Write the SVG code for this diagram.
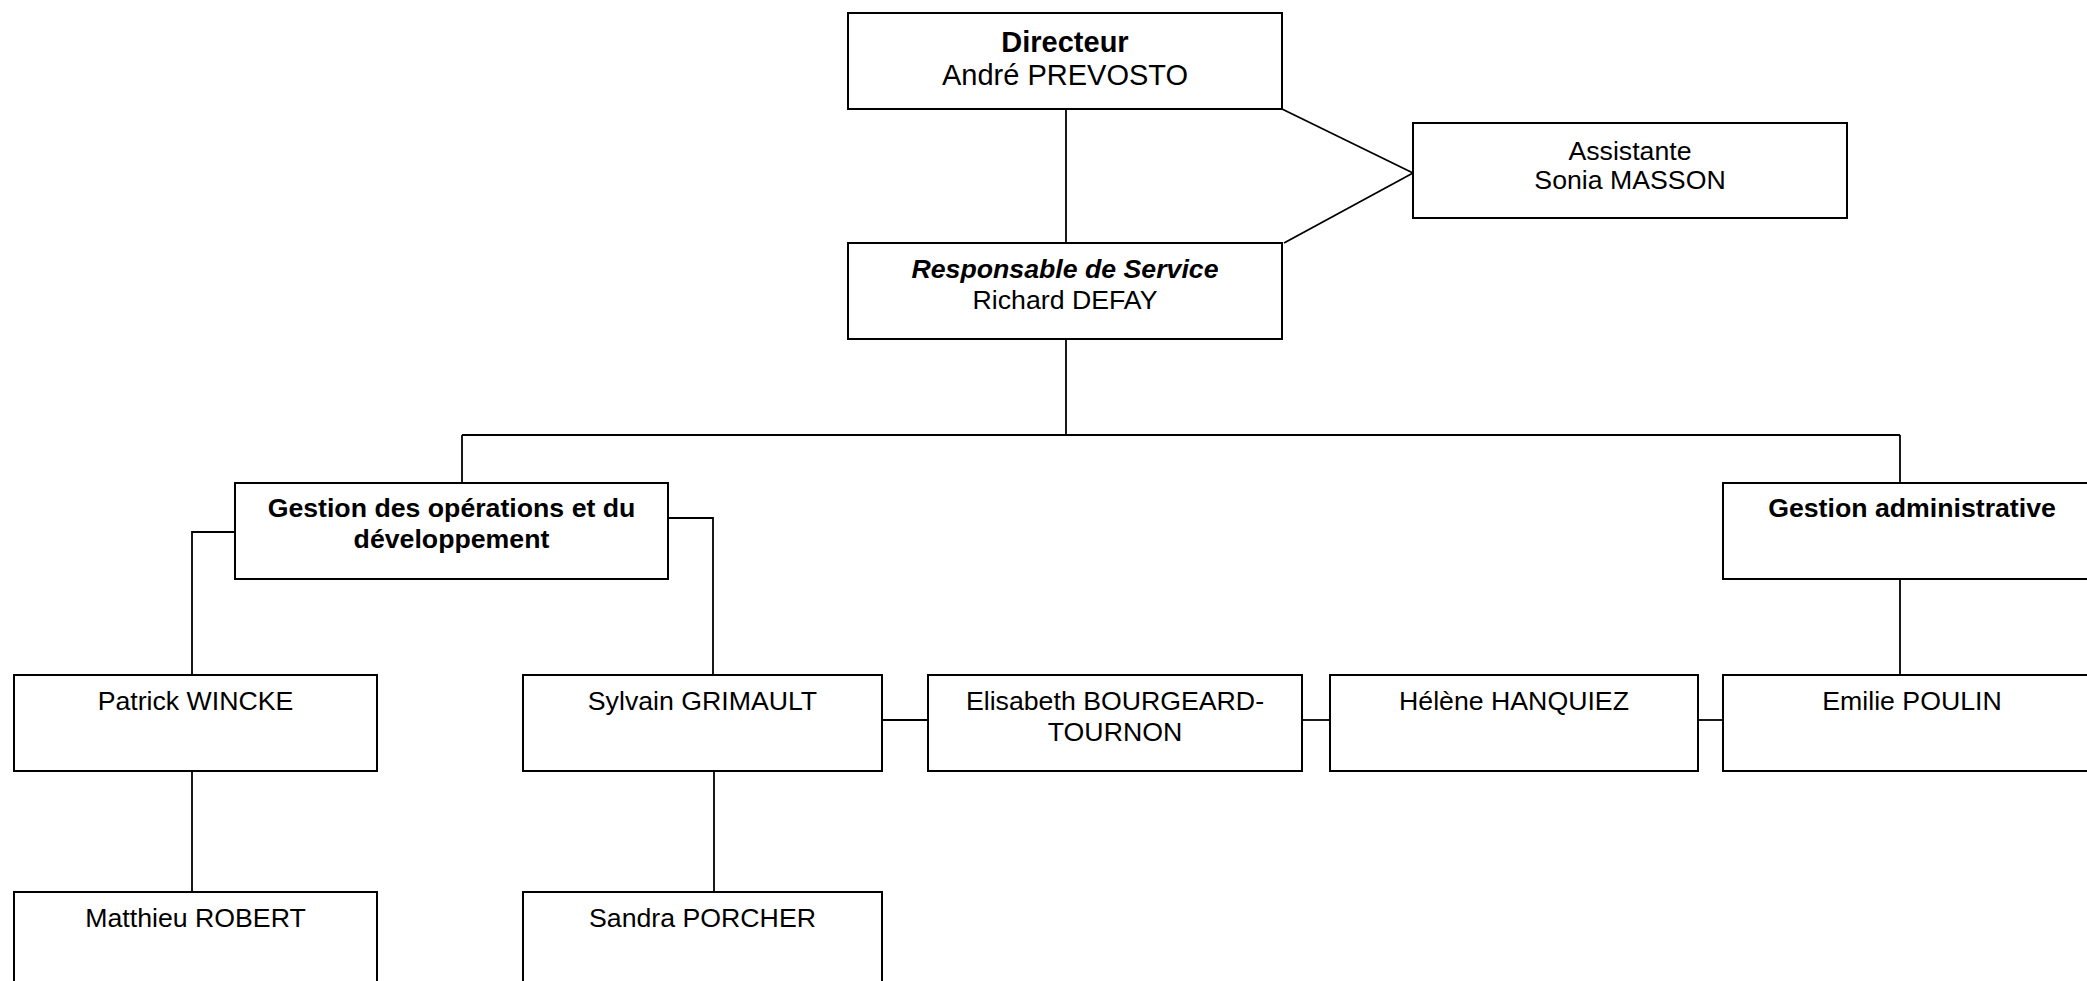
<svg xmlns="http://www.w3.org/2000/svg" width="2087" height="981" viewBox="0 0 2087 981">
<style>
.box{fill:#fff;stroke:#000;stroke-width:2}
.ln{fill:none;stroke:#000;stroke-width:1.8}
text{font-family:"Liberation Sans",Arial,sans-serif;font-size:26.7px;fill:#000;text-anchor:middle}
.b{font-weight:bold}
.bi{font-weight:bold;font-style:italic}
.big{font-size:29px}
</style>
<rect width="2087" height="981" fill="#fff"/>
<g id="connectors">
<path class="ln" d="M1066 109V243"/>
<path class="ln" d="M1282 109L1413 173"/>
<path class="ln" d="M1284 243L1413 173"/>
<path class="ln" d="M1066 339V435"/>
<path class="ln" d="M462 435H1900"/>
<path class="ln" d="M462 435V483"/>
<path class="ln" d="M1900 435V483"/>
<path class="ln" d="M235 532H192V675"/>
<path class="ln" d="M668 518H713V675"/>
<path class="ln" d="M192 771V892"/>
<path class="ln" d="M714 771V892"/>
<path class="ln" d="M882 720H928"/>
<path class="ln" d="M1302 720H1330"/>
<path class="ln" d="M1698 720H1723"/>
<path class="ln" d="M1900 579V675"/>
</g>
<g id="directeur">
<rect class="box" x="848" y="13" width="434" height="96"/>
<text class="b big" x="1065" y="52">Directeur</text>
<text class="big" x="1065" y="85">André PREVOSTO</text>
</g>
<g id="assistante">
<rect class="box" x="1413" y="123" width="434" height="95"/>
<text x="1630" y="160">Assistante</text>
<text x="1630" y="189">Sonia MASSON</text>
</g>
<g id="responsable">
<rect class="box" x="848" y="243" width="434" height="96"/>
<text class="bi" x="1065" y="278">Responsable de Service</text>
<text x="1065" y="309">Richard DEFAY</text>
</g>
<g id="gestion-ops">
<rect class="box" x="235" y="483" width="433" height="96"/>
<text class="b" x="451.5" y="517">Gestion des opérations et du</text>
<text class="b" x="451.5" y="548">développement</text>
</g>
<g id="gestion-admin">
<rect class="box" x="1723" y="483" width="378" height="96"/>
<text class="b" x="1912" y="517">Gestion administrative</text>
</g>
<g id="patrick">
<rect class="box" x="14" y="675" width="363" height="96"/>
<text x="195.5" y="710">Patrick WINCKE</text>
</g>
<g id="sylvain">
<rect class="box" x="523" y="675" width="359" height="96"/>
<text x="702.5" y="710">Sylvain GRIMAULT</text>
</g>
<g id="elisabeth">
<rect class="box" x="928" y="675" width="374" height="96"/>
<text x="1115" y="710">Elisabeth BOURGEARD-</text>
<text x="1115" y="741">TOURNON</text>
</g>
<g id="helene">
<rect class="box" x="1330" y="675" width="368" height="96"/>
<text x="1514" y="710">Hélène HANQUIEZ</text>
</g>
<g id="emilie">
<rect class="box" x="1723" y="675" width="378" height="96"/>
<text x="1912" y="710">Emilie POULIN</text>
</g>
<g id="matthieu">
<rect class="box" x="14" y="892" width="363" height="96"/>
<text x="195.5" y="927">Matthieu ROBERT</text>
</g>
<g id="sandra">
<rect class="box" x="523" y="892" width="359" height="96"/>
<text x="702.5" y="927">Sandra PORCHER</text>
</g>
</svg>
